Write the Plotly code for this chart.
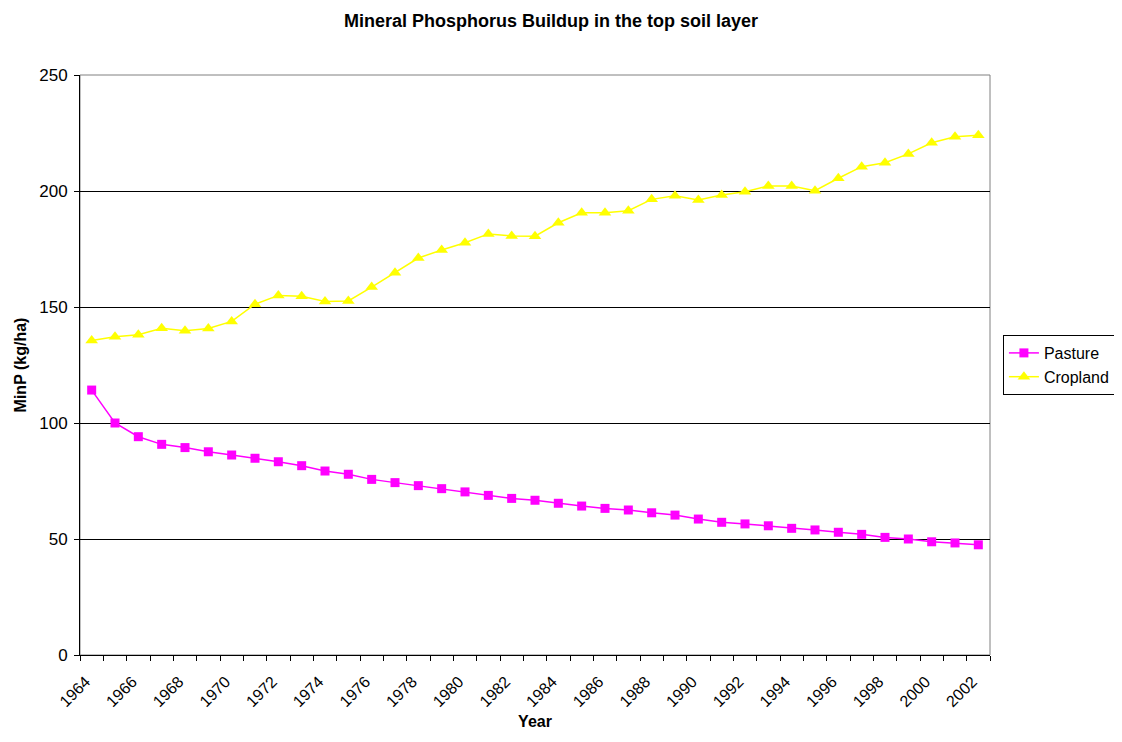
import plotly.graph_objects as go

years = list(range(1964, 2003))
pasture = [114.2, 100.0, 94.1, 90.8, 89.4, 87.6, 86.2, 84.8, 83.3, 81.6, 79.3, 77.9,
           75.7, 74.3, 73.0, 71.7, 70.3, 68.8, 67.5, 66.7, 65.4, 64.2,
           63.2, 62.5, 61.3, 60.3,
           58.6, 57.2, 56.5, 55.7, 54.6, 53.9,
           52.9, 52.0, 50.7, 50.0, 48.8,
           48.3, 47.5]
cropland = [135.6, 137.2, 138.0, 140.8, 139.8, 140.7, 143.8, 151.2, 155.0, 154.6, 152.4, 152.6,
            158.6, 164.8, 171.1, 174.6, 177.7, 181.5, 180.6, 180.5, 186.3, 190.6,
            190.6, 191.5, 196.4, 198.0, 196.1,
            198.3, 199.7, 202.2, 202.2, 200.1, 205.5, 210.5, 212.2, 216.0, 220.8, 223.4, 224.0]
tick_years = list(range(1964, 2003, 2))

font = "Liberation Sans, Arial, sans-serif"

fig = go.Figure()
fig.add_trace(go.Scatter(x=years, y=pasture, name="Pasture", mode="lines+markers",
                         line=dict(color="#FF00FF", width=1.5),
                         marker=dict(symbol="square", size=9, color="#FF00FF")))
fig.add_trace(go.Scatter(x=years, y=cropland, name="Cropland", mode="lines+markers",
                         line=dict(color="#FFFF00", width=1.5),
                         marker=dict(symbol="triangle-up", size=11, color="#FFFF00")))

# grey frame around plot area
fig.add_shape(type="rect", xref="paper", yref="paper", x0=0, y0=0, x1=1, y1=1,
              line=dict(color="#808080", width=1), layer="below")

# chart title as annotation, top edge at the top of the figure
fig.add_annotation(text="<b>Mineral Phosphorus Buildup in the top soil layer</b>",
                   xref="paper", yref="paper", x=(549 - 75) / 915, y=1 + 66 / 580,
                   xanchor="center", yanchor="top", showarrow=False,
                   font=dict(size=18))

# page body adds 8px offset, margins compensate
fig.update_layout(
    width=1122, height=742,
    margin=dict(l=67, r=140, t=67, b=95),
    paper_bgcolor="white", plot_bgcolor="white",
    font=dict(family=font, size=16, color="black"),
    legend=dict(x=1.0142, y=0.5, xanchor="left", yanchor="middle",
                bordercolor="black", borderwidth=1, font=dict(size=16),
                tracegroupgap=0),
    showlegend=True,
)
fig.update_xaxes(
    range=[1963.5, 2002.5], tickmode="array", tickvals=tick_years,
    ticktext=[str(y) for y in tick_years], tickangle=-45, ticks="",
    showline=True, linecolor="black", linewidth=1, showgrid=False, zeroline=False,
    minor=dict(tick0=1963.5, dtick=1, ticks="outside", ticklen=5, tickcolor="black", showgrid=False),
    title=dict(text="<b>Year</b>", font=dict(size=16), standoff=6),
    tickfont=dict(size=16), ticklabelstandoff=10, ticklabelshift=-6,
)
fig.update_yaxes(
    range=[0, 250], dtick=50, ticks="outside", ticklen=5, tickcolor="black",
    showline=True, linecolor="black", linewidth=1,
    showgrid=True, gridcolor="black", gridwidth=1, zeroline=False,
    title=dict(text="<b>MinP (kg/ha)</b>", font=dict(size=16), standoff=8),
    tickfont=dict(size=17), ticklabelstandoff=3,
)

fig.write_html("out.html")
